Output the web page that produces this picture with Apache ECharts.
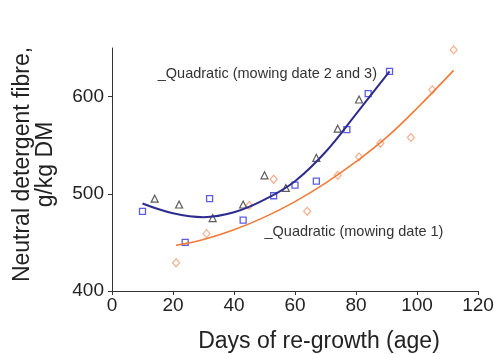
<!DOCTYPE html>
<html>
<head>
<meta charset="utf-8">
<script src="https://cdn.jsdelivr.net/npm/echarts@6/dist/echarts.min.js"></script>
<style>
  html, body { margin: 0; padding: 0; background: #fff; }
  #chart { width: 494px; height: 354px; }
</style>
</head>
<body>
<div id="chart"></div>
<script>
// Neutral detergent fibre vs. days of re-growth
const xTicks = [0, 20, 40, 60, 80, 100, 120];
const yTicks = [400, 500, 600];

// Mowing date 2 (squares) and 3 (triangles)
const squareDays = [10, 24, 32, 43, 53, 60, 67, 77, 84, 91];
const squareNdf  = [482, 450, 495, 473, 498, 509, 513, 566, 603, 626];
const triDays    = [14, 22, 33, 43, 50, 57, 67, 74, 81];
const triNdf     = [495, 489, 475, 489, 519, 506, 537, 567, 597];

// Mowing date 1 (diamonds)
const diaDays = [21, 31, 45, 53, 64, 74, 81, 88, 98, 105, 112];
const diaNdf  = [429, 459, 488, 515, 482, 519, 538, 552, 558, 607, 648];

// Quadratic trend curves
const fit23Days = [10, 20, 30, 40, 50, 60, 70, 80, 91];
const fit23Ndf  = [490, 480, 476, 481, 494, 513, 543, 582, 626];
const fit1Days  = [21, 30, 40, 50, 60, 70, 80, 90, 100, 112];
const fit1Ndf   = [447, 453, 463, 476, 492, 511, 533, 558, 588, 627];

const label23 = '_Quadratic (mowing date 2 and 3)';
const label1  = '_Quadratic (mowing date 1)';

const pairs = (xs, ys) => xs.map((x, i) => [x, ys[i]]);

const chart = echarts.init(document.getElementById('chart'), null, { renderer: 'canvas' });
const font = 'Liberation Sans, Arial, sans-serif';
const axisColor = '#333';

chart.setOption({
  animation: false,
  backgroundColor: '#fff',
  grid: { left: 112, right: 16, top: 48, bottom: 63, containLabel: false, outerBoundsMode: 'none' },
  xAxis: {
    type: 'value', min: 0, max: 120, interval: 20,
    name: 'Days of re-growth (age)',
    nameLocation: 'middle', nameGap: 39,
    nameTextStyle: { fontFamily: font, fontSize: 23, color: '#222', padding: [0, 0, 0, 48] },
    axisLine: { show: true, lineStyle: { color: axisColor, width: 1 } },
    axisTick: { show: true, length: 4, lineStyle: { color: axisColor }, customValues: xTicks },
    axisLabel: { fontFamily: font, fontSize: 19, color: '#222', margin: 5, customValues: xTicks },
    splitLine: { show: false }
  },
  yAxis: {
    type: 'value', min: 400, max: 650, interval: 100,
    name: 'Neutral detergent fibre,\ng/kg DM',
    nameLocation: 'middle', nameGap: 55,
    nameTextStyle: { fontFamily: font, fontSize: 23, color: '#222', lineHeight: 23, align: 'center',
                     padding: [0, 0, 0, 10] },
    axisLine: { show: true, lineStyle: { color: axisColor, width: 1 } },
    axisTick: { show: true, length: 4, lineStyle: { color: axisColor }, customValues: yTicks },
    axisLabel: { fontFamily: font, fontSize: 19, color: '#222', margin: 8, customValues: yTicks },
    splitLine: { show: false }
  },
  series: [
    {
      name: 'fit 2 and 3', type: 'line', smooth: 0.4, symbol: 'none',
      data: pairs(fit23Days, fit23Ndf),
      lineStyle: { color: '#2c2c8e', width: 2 },
      markPoint: {
        symbol: 'circle', symbolSize: 0,
        label: { show: true, position: 'right', distance: 0, formatter: '{b}',
                 fontFamily: font, fontSize: 14.5, color: '#333' },
        data: [{ name: label23, coord: [15, 623] }]
      }
    },
    {
      name: 'fit 1', type: 'line', smooth: 0.4, symbol: 'none',
      data: pairs(fit1Days, fit1Ndf),
      lineStyle: { color: '#f07a36', width: 1.6 },
      markPoint: {
        symbol: 'circle', symbolSize: 0,
        label: { show: true, position: 'right', distance: 0, formatter: '{b}',
                 fontFamily: font, fontSize: 14.5, color: '#333' },
        data: [{ name: label1, coord: [50, 461] }]
      }
    },
    {
      name: 'date 1', type: 'scatter', symbol: 'diamond', symbolSize: [7, 8],
      data: pairs(diaDays, diaNdf),
      itemStyle: { color: 'rgba(0,0,0,0)', borderColor: '#f29a72', borderWidth: 1.2 }
    },
    {
      name: 'date 3', type: 'scatter', symbol: 'triangle', symbolSize: 7,
      data: pairs(triDays, triNdf),
      itemStyle: { color: 'rgba(0,0,0,0)', borderColor: '#333', borderWidth: 1.2 }
    },
    {
      name: 'date 2', type: 'scatter', symbol: 'rect', symbolSize: 6,
      data: pairs(squareDays, squareNdf),
      itemStyle: { color: 'rgba(0,0,0,0)', borderColor: '#3434dc', borderWidth: 1.3 }
    }
  ]
});
</script>
</body>
</html>
